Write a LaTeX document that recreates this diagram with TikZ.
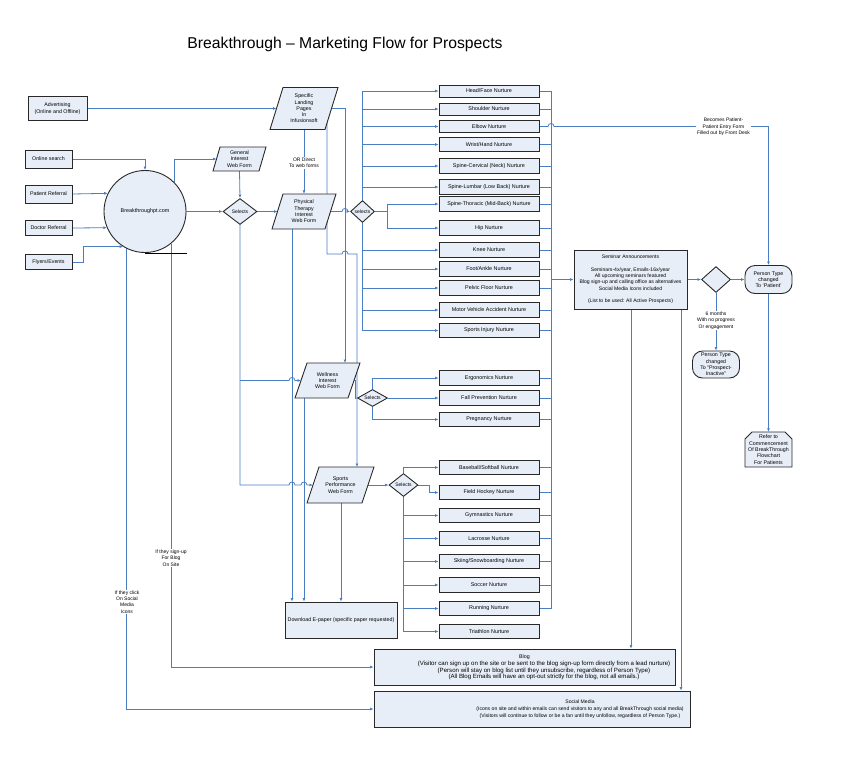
\documentclass[tikz,border=0pt]{standalone}
\usepackage{fontspec}
\setmainfont{Liberation Sans}
\usetikzlibrary{shapes.geometric,arrows.meta,calc}
\definecolor{lb}{RGB}{74,126,195}
\definecolor{bf}{RGB}{232,238,248}
\definecolor{bd}{RGB}{40,40,40}
\pgfdeclarelayer{bg}
\pgfsetlayers{bg,main}
\newcommand\fsz[2][6.3]{\fontsize{#2}{#1}\selectfont}
\tikzset{
 shp/.style={draw=bd, line width=0.9pt, fill=bf},
 box/.style={shp, inner sep=1pt, align=center, font=\fsz{5.3}},
 nbox/.style={box, minimum width=100pt, minimum height=14.5pt, font=\fsz{5.4}},
 sbox/.style={nbox, minimum height=12pt},
 txt/.style={align=center, font=\fsz{5.3}, inner sep=1pt},
 lbl/.style={txt, fill=white, font=\fsz{5}},
 conn/.style={draw=lb, line width=0.8pt},
 arr/.style={conn, -{Latex[length=3.5pt,width=3pt]}},
 dia/.style={diamond, shp, inner sep=0pt, font=\fsz{5}},
 rnd/.style={shp, rounded corners=10pt, align=center, font=\fsz{5.3}, inner sep=0pt},
}
\newcommand\pgram[7]{%
 \filldraw[shp] (#2-#4/2,#3+#5/2) -- (#2+#4/2-#6,#3+#5/2) -- (#2+#4/2,#3-#5/2) -- (#2-#4/2+#6,#3-#5/2) -- cycle;
 \node[txt, minimum width=#4pt, minimum height=#5pt, inner sep=0pt] (#1) at (#2,#3) {#7};
 \coordinate (#1-l) at (#2-#4/2+#6/2,#3);
 \coordinate (#1-r) at (#2+#4/2-#6/2,#3);
}
\begin{document}
\begin{tikzpicture}[x=1pt,y=-1pt]
\useasboundingbox (0,0) rectangle (846,761);

\node[font=\fontsize{15.7}{18}\selectfont, inner sep=0] (title) at (345,44) {Breakthrough – Marketing Flow for Prospects};

% left sources
\node[box, minimum width=59pt, minimum height=24pt] (adv) at (57.5,108.5) {Advertising\\(Online and Offline)};
\node[box, minimum width=47pt, minimum height=18pt] (online) at (48.5,159) {Online search};
\node[box, minimum width=47pt, minimum height=18pt] (patref) at (48.5,194) {Patient Referral};
\node[box, minimum width=47pt, minimum height=15pt] (docref) at (48.5,228) {Doctor Referral};
\node[box, minimum width=47pt, minimum height=15pt] (flyers) at (48.5,262) {Flyers/Events};

\node[circle, shp, minimum size=82pt, inner sep=0pt, font=\fsz{5.4}] (bt) at (145,211.5) {Breakthroughpt.com};
\draw[black, line width=1pt] (145,253) -- (187,253);

% forms
\pgram{gen}{239.5}{159}{53}{24}{7}{General\\Interest\\Web Form}
\pgram{slp}{304}{108.5}{68}{42}{13}{Specific\\Landing\\Pages\\In\\Infusionsoft}
\pgram{pt}{304}{211.5}{64}{35}{11}{Physical\\Therapy\\Interest\\Web Form}
\pgram{wel}{327.5}{380.5}{65}{35}{12}{Wellness\\Interest\\Web Form}
\pgram{sports}{340.5}{485}{67}{36}{12}{Sports\\Performance\\Web Form}

% diamonds
\node[dia, minimum width=34pt, minimum height=26pt] (sel1) at (240,211.5) {Selects};
\node[dia, minimum width=24pt, minimum height=22pt] (sel2) at (362.5,211.5) {selects};
\node[dia, shape aspect=2, minimum width=30pt, minimum height=17pt] (sel3) at (372.5,398) {Selects};
\node[dia, minimum width=29pt, minimum height=23pt] (sel4) at (403.5,485) {Selects};
\node[dia, minimum width=29pt, minimum height=26pt] (dec) at (716,279.5) {};

% nurtures
\node[sbox] (hf) at (489,91) {Head/Face Nurture};
\node[sbox] (sh) at (489,109) {Shoulder Nurture};
\node[sbox] (el) at (489,126.5) {Elbow Nurture};
\node[nbox] (wr) at (489,144.5) {Wrist/Hand Nurture};
\node[nbox] (cer) at (489,166) {Spine-Cervical (Neck) Nurture};
\node[nbox] (lum) at (489,187) {Spine-Lumbar (Low Back) Nurture};
\node[nbox] (thor) at (489,204) {Spine-Thoracic (Mid-Back) Nurture};
\node[nbox] (hip) at (489,228) {Hip Nurture};
\node[nbox] (knee) at (489,250) {Knee Nurture};
\node[nbox] (foot) at (489,269) {Foot/Ankle Nurture};
\node[nbox] (pel) at (489,288) {Pelvic Floor Nurture};
\node[nbox] (mva) at (489,310) {Motor Vehicle Accident Nurture};
\node[nbox] (spinj) at (489,330.5) {Sports Injury Nurture};
\node[nbox] (ergo) at (489,378) {Ergonomics Nurture};
\node[nbox] (fall) at (489,398) {Fall Prevention Nurture};
\node[nbox] (preg) at (489,419.5) {Pregnancy Nurture};
\node[nbox] (base) at (489,467.5) {Baseball/Softball Nurture};
\node[nbox] (fh) at (489,492.5) {Field Hockey Nurture};
\node[nbox] (gym) at (489,515.5) {Gymnastics Nurture};
\node[nbox] (lac) at (489,538.5) {Lacrosse Nurture};
\node[nbox] (ski) at (489,561.5) {Skiing/Snowboarding Nurture};
\node[nbox] (soc) at (489,585) {Soccer Nurture};
\node[nbox] (run) at (489,608.5) {Running Nurture};
\node[nbox] (tri) at (489,631.5) {Triathlon Nurture};
\coordinate (bus) at (551,0);

\node[box, minimum width=112pt, minimum height=36pt] (dl) at (341,620) {Download E-paper (specific paper requested)};

\node[box, minimum width=113pt, minimum height=59pt, font={\fsz{5.1}}] (sem) at (630.5,279.5) {Seminar Announcements\\[6.3pt]Seminars-4x/year, Emails-16x/year\\All upcoming seminars featured\\Blog sign-up and calling office as alternatives\\Social Media Icons included\\[6.3pt](List to be used: All Active Prospects)};

\node[rnd, minimum width=47pt, minimum height=28pt] (ptpat) at (768.5,279.5) {Person Type\\changed\\To ‘Patient’};
\node[rnd, minimum width=47pt, minimum height=27pt] (inact) at (716,364.5) {Person Type\\changed\\To “Prospect-\\Inactive”};
\filldraw[shp] (745,467) -- (745,439) -- (752,432) -- (785,432) -- (792,439) -- (792,467) -- cycle;
\node[txt, minimum width=47pt, minimum height=35pt, inner sep=0pt] (refer) at (768.5,449.5) {Refer to\\Commencement\\Of BreakThrough\\Flowchart\\For Patients};

\node[box, minimum width=301pt, minimum height=36pt] (blog) at (524.5,667) {};
\node[txt] (blogttl) at (524.5,657) {Blog};
\node[txt, font={\fsz{6.1}}] (blogtxt) at (544,670.5) {(Visitor can sign up on the site or be sent to the blog sign-up form directly from a lead nurture)\\(Person will stay on blog list until they unsubscribe, regardless of Person Type)\\(All Blog Emails will have an opt-out strictly for the blog, not all emails.)};
\node[box, minimum width=316pt, minimum height=36pt] (social) at (532,709) {};
\node[txt, font={\fsz[6.7]{5.1}}] (socialtxt) at (580,709) {Social Media\\(Icons on site and within emails can send visitors to any and all BreakThrough social media)\\(Visitors will continue to follow or be a fan until they unfollow, regardless of Person Type.)};

% labels
\node[lbl] (l1) at (304,163) {OR Direct\\To web forms};
\node[lbl] (l2) at (723.5,127) {Becomes Patient-\\Patient Entry Form\\Filled out by Front Desk};
\node[lbl] (l3) at (716,320.5) {6 months\\With no progress\\Or engagement};
\node[lbl] (l4) at (171,558) {If they sign-up\\For Blog\\On Site};
\node[lbl] (l5) at (127,602) {If they click\\On Social\\Media\\Icons};

\begin{pgfonlayer}{bg}
\draw[arr] (adv.east) -- (slp-l);
\draw[arr] (online.east) -| (bt.north);
\draw[arr] (patref.east) -- (bt.154);
\draw[arr] (docref.east) -- (bt.203);
\draw[arr] (flyers.east) -- ++(11,0) |- (bt.238.6);
\draw[arr] (bt.45) |- (gen-l);
\draw[arr] (bt.east) -- (sel1.west);
\draw[arr] (gen.south) -- (sel1.north);
\draw[arr] (sel1.east) -- (pt-l);
\draw[arr] (slp.south) -- (pt.north);
\draw[arr] (pt-r) -- (342,211.5) .. controls (342,207.5) and (348,207.5) .. (348,211.5) -- (sel2.west);
\draw[arr] (slp-r) -- (345,108.5) -- (345,363);
\draw[arr] (327,108.5) -- (327,254) -- (342,254) .. controls (342,250) and (348,250) .. (348,254) -- (357,254) -- (357,467);
\draw[arr] (sel1.south) -- (240,485) -- (289,485) .. controls (289,481) and (295,481) .. (295,485) -- (301,485) .. controls (301,481) and (307,481) .. (307,485) -- (sports-l);
\draw[arr] (240,380.5) -- (289,380.5) .. controls (289,376.5) and (295,376.5) .. (295,380.5) -- (wel-l);
\draw[arr] ([xshift=-12pt]pt.south) -- ([xshift=-49pt]dl.north);
\draw[arr] ([xshift=-23.5pt]wel.south) -- ([xshift=-37pt]dl.north);
\draw[arr] ([xshift=0.5pt]sports.south) -- (dl.north);
\draw[conn, -{Latex[length=2pt,width=2.5pt]}] (wel-r) -- (355.5,380.5) -- (355.5,398) -- (sel3.west);
\draw[arr] (sel3.north) |- (ergo.west);
\draw[arr] (sel3.east) -- (fall.west);
\draw[arr] (sel3.south) |- (preg.west);
\foreach \t in {hf,sh,el,wr,cer,lum} \draw[arr] (sel2.north) |- (\t.west);
\foreach \t in {thor,hip} \draw[arr] (sel2.east) -- ++(12.5,0) |- (\t.west);
\foreach \t in {knee,foot,pel,mva,spinj} \draw[arr] (sel2.south) |- (\t.west);
\draw[arr] (sports-r) -- (sel4.west);
\draw[arr] (sel4.north) |- (base.west);
\draw[arr] (sel4.east) -- ++(10.5,0) |- (fh.west);
\foreach \t in {gym,lac,ski,soc,run,tri} \draw[arr] (sel4.south) |- (\t.west);
\foreach \t in {hf,sh,wr,cer,lum,thor,hip,knee,foot,pel,mva,spinj,ergo,fall,preg,base,fh,gym,lac,ski,soc,run} \draw[conn] (\t.east) -- (\t.east -| bus);
\draw[conn, line width=1pt] (hf.east -| bus) -- (run.east -| bus);
\draw[arr] (sem.west -| bus) -- (sem.west);
\draw[arr] (el.east) -- (548,126.5) .. controls (548,122.5) and (554,122.5) .. (554,126.5) -- (768.5,126.5) -- (ptpat.north);
\draw[arr] (sem.east) -- (dec.west);
\draw[arr] (dec.east) -- (ptpat.west);
\draw[arr] (dec.south) -- (inact.north);
\draw[arr] (ptpat.south) -- (refer.north);
\draw[arr] ([xshift=0.5pt]sem.south) -- ([xshift=0.5pt]sem.south |- blog.north);
\draw[arr] ([xshift=50.5pt]sem.south) -- ([xshift=50.5pt]sem.south |- social.north);
\draw[arr] (bt.309.4) |- (blog.west);
\draw[arr] (bt.243.9) |- (social.west);
\end{pgfonlayer}
\end{tikzpicture}
\end{document}
